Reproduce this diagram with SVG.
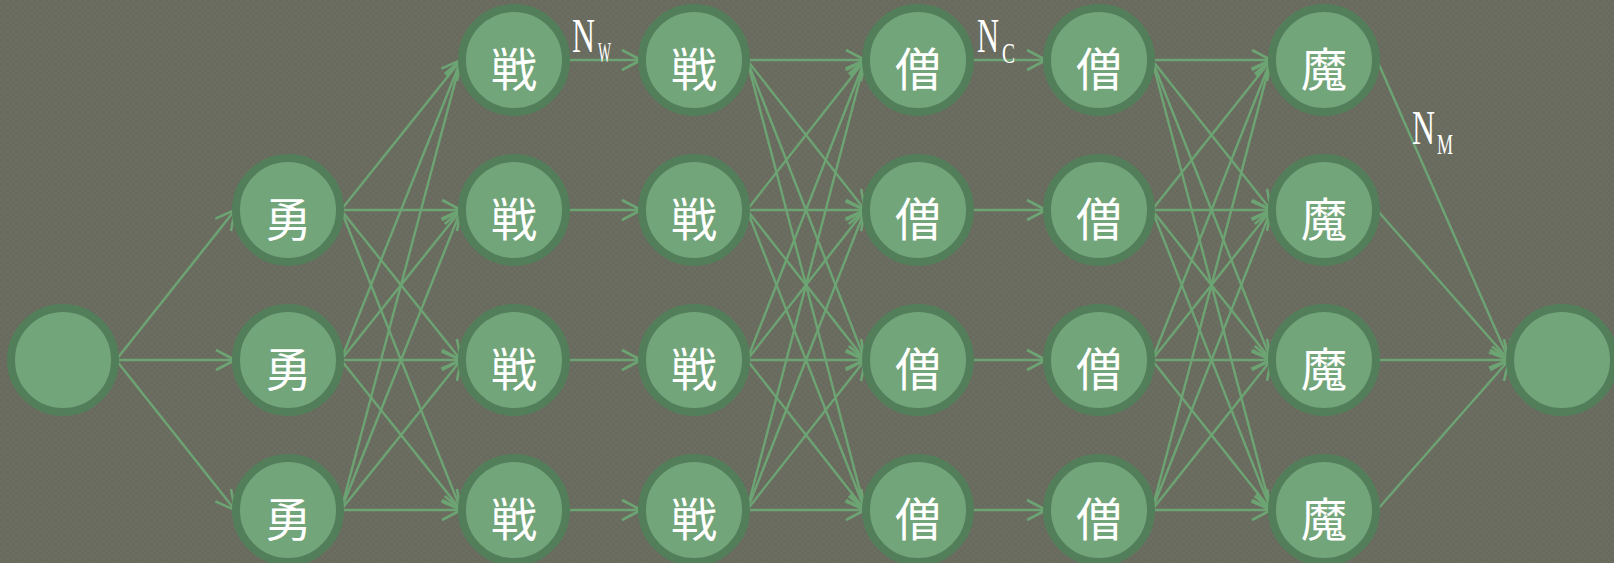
<svg xmlns="http://www.w3.org/2000/svg" width="1614" height="563" viewBox="0 0 1614 563">
<style>
.node circle{fill:#72a57a;stroke:#527f5a;stroke-width:8}
.node text{fill:#ffffff;font-family:"Noto Sans CJK JP","Noto Sans CJK SC",sans-serif;font-size:46px;text-anchor:middle;dominant-baseline:central}
#edges line{stroke:#6ca473;stroke-width:2.4;fill:none;marker-end:url(#arr)}
.lbl{fill:#ffffff;font-family:"Liberation Serif",serif}
</style>
<defs>
<pattern id="bg" width="6" height="6" patternUnits="userSpaceOnUse">
<rect width="6" height="6" fill="#686a5d"/>
<rect width="3" height="3" fill="#6c6e61"/>
<rect x="3" y="3" width="3" height="3" fill="#6c6e61"/>
</pattern>
<marker id="arr" markerUnits="userSpaceOnUse" viewBox="-22 -13 24 26" refX="0" refY="0" markerWidth="24" markerHeight="26" orient="auto">
<path d="M-19,-10 L0,0 L-19,10" fill="none" stroke="#6ca473" stroke-width="2.6"/>
</marker>
</defs>
<rect width="1614" height="563" fill="url(#bg)"/>
<g id="edges">
<line x1="116" y1="360" x2="235" y2="210"/>
<line x1="116" y1="360" x2="235" y2="360"/>
<line x1="116" y1="360" x2="235" y2="510"/>
<line x1="341" y1="210" x2="461" y2="60"/>
<line x1="341" y1="210" x2="461" y2="210"/>
<line x1="341" y1="210" x2="461" y2="360"/>
<line x1="341" y1="210" x2="461" y2="510"/>
<line x1="341" y1="360" x2="461" y2="60"/>
<line x1="341" y1="360" x2="461" y2="210"/>
<line x1="341" y1="360" x2="461" y2="360"/>
<line x1="341" y1="360" x2="461" y2="510"/>
<line x1="341" y1="510" x2="461" y2="60"/>
<line x1="341" y1="510" x2="461" y2="210"/>
<line x1="341" y1="510" x2="461" y2="360"/>
<line x1="341" y1="510" x2="461" y2="510"/>
<line x1="567" y1="60" x2="641" y2="60"/>
<line x1="567" y1="210" x2="641" y2="210"/>
<line x1="567" y1="360" x2="641" y2="360"/>
<line x1="567" y1="510" x2="641" y2="510"/>
<line x1="747" y1="60" x2="865" y2="60"/>
<line x1="747" y1="60" x2="865" y2="210"/>
<line x1="747" y1="60" x2="865" y2="360"/>
<line x1="747" y1="60" x2="865" y2="510"/>
<line x1="747" y1="210" x2="865" y2="60"/>
<line x1="747" y1="210" x2="865" y2="210"/>
<line x1="747" y1="210" x2="865" y2="360"/>
<line x1="747" y1="210" x2="865" y2="510"/>
<line x1="747" y1="360" x2="865" y2="60"/>
<line x1="747" y1="360" x2="865" y2="210"/>
<line x1="747" y1="360" x2="865" y2="360"/>
<line x1="747" y1="360" x2="865" y2="510"/>
<line x1="747" y1="510" x2="865" y2="60"/>
<line x1="747" y1="510" x2="865" y2="210"/>
<line x1="747" y1="510" x2="865" y2="360"/>
<line x1="747" y1="510" x2="865" y2="510"/>
<line x1="971" y1="60" x2="1046" y2="60"/>
<line x1="971" y1="210" x2="1046" y2="210"/>
<line x1="971" y1="360" x2="1046" y2="360"/>
<line x1="971" y1="510" x2="1046" y2="510"/>
<line x1="1152" y1="60" x2="1271" y2="60"/>
<line x1="1152" y1="60" x2="1271" y2="210"/>
<line x1="1152" y1="60" x2="1271" y2="360"/>
<line x1="1152" y1="60" x2="1271" y2="510"/>
<line x1="1152" y1="210" x2="1271" y2="60"/>
<line x1="1152" y1="210" x2="1271" y2="210"/>
<line x1="1152" y1="210" x2="1271" y2="360"/>
<line x1="1152" y1="210" x2="1271" y2="510"/>
<line x1="1152" y1="360" x2="1271" y2="60"/>
<line x1="1152" y1="360" x2="1271" y2="210"/>
<line x1="1152" y1="360" x2="1271" y2="360"/>
<line x1="1152" y1="360" x2="1271" y2="510"/>
<line x1="1152" y1="510" x2="1271" y2="60"/>
<line x1="1152" y1="510" x2="1271" y2="210"/>
<line x1="1152" y1="510" x2="1271" y2="360"/>
<line x1="1152" y1="510" x2="1271" y2="510"/>
<line x1="1377" y1="60" x2="1509" y2="360"/>
<line x1="1377" y1="210" x2="1509" y2="360"/>
<line x1="1377" y1="360" x2="1509" y2="360"/>
<line x1="1377" y1="510" x2="1509" y2="360"/>
</g>
<g id="start" class="node"><circle cx="63" cy="360" r="52"/></g>
<g id="hero1" class="node"><circle cx="288" cy="210" r="52"/><text x="288" y="216">勇</text></g>
<g id="hero2" class="node"><circle cx="288" cy="360" r="52"/><text x="288" y="366">勇</text></g>
<g id="hero3" class="node"><circle cx="288" cy="510" r="52"/><text x="288" y="516">勇</text></g>
<g id="war1a" class="node"><circle cx="514" cy="60" r="52"/><text x="514" y="66">戦</text></g>
<g id="war1b" class="node"><circle cx="514" cy="210" r="52"/><text x="514" y="216">戦</text></g>
<g id="war1c" class="node"><circle cx="514" cy="360" r="52"/><text x="514" y="366">戦</text></g>
<g id="war1d" class="node"><circle cx="514" cy="510" r="52"/><text x="514" y="516">戦</text></g>
<g id="war2a" class="node"><circle cx="694" cy="60" r="52"/><text x="694" y="66">戦</text></g>
<g id="war2b" class="node"><circle cx="694" cy="210" r="52"/><text x="694" y="216">戦</text></g>
<g id="war2c" class="node"><circle cx="694" cy="360" r="52"/><text x="694" y="366">戦</text></g>
<g id="war2d" class="node"><circle cx="694" cy="510" r="52"/><text x="694" y="516">戦</text></g>
<g id="cleric1a" class="node"><circle cx="918" cy="60" r="52"/><text x="918" y="66">僧</text></g>
<g id="cleric1b" class="node"><circle cx="918" cy="210" r="52"/><text x="918" y="216">僧</text></g>
<g id="cleric1c" class="node"><circle cx="918" cy="360" r="52"/><text x="918" y="366">僧</text></g>
<g id="cleric1d" class="node"><circle cx="918" cy="510" r="52"/><text x="918" y="516">僧</text></g>
<g id="cleric2a" class="node"><circle cx="1099" cy="60" r="52"/><text x="1099" y="66">僧</text></g>
<g id="cleric2b" class="node"><circle cx="1099" cy="210" r="52"/><text x="1099" y="216">僧</text></g>
<g id="cleric2c" class="node"><circle cx="1099" cy="360" r="52"/><text x="1099" y="366">僧</text></g>
<g id="cleric2d" class="node"><circle cx="1099" cy="510" r="52"/><text x="1099" y="516">僧</text></g>
<g id="mage1" class="node"><circle cx="1324" cy="60" r="52"/><text x="1324" y="66">魔</text></g>
<g id="mage2" class="node"><circle cx="1324" cy="210" r="52"/><text x="1324" y="216">魔</text></g>
<g id="mage3" class="node"><circle cx="1324" cy="360" r="52"/><text x="1324" y="366">魔</text></g>
<g id="mage4" class="node"><circle cx="1324" cy="510" r="52"/><text x="1324" y="516">魔</text></g>
<g id="end" class="node"><circle cx="1562" cy="360" r="52"/></g>
<g id="labels">
<text class="lbl"><tspan x="572" y="52" font-size="48" textLength="23" lengthAdjust="spacingAndGlyphs">N</tspan><tspan x="598" y="62" font-size="30" textLength="13" lengthAdjust="spacingAndGlyphs">W</tspan></text>
<text class="lbl"><tspan x="977" y="52" font-size="48" textLength="22" lengthAdjust="spacingAndGlyphs">N</tspan><tspan x="1002" y="63" font-size="30" textLength="13" lengthAdjust="spacingAndGlyphs">C</tspan></text>
<text class="lbl"><tspan x="1412" y="144" font-size="48" textLength="23" lengthAdjust="spacingAndGlyphs">N</tspan><tspan x="1437" y="154" font-size="30" textLength="16" lengthAdjust="spacingAndGlyphs">M</tspan></text>
</g>
</svg>
